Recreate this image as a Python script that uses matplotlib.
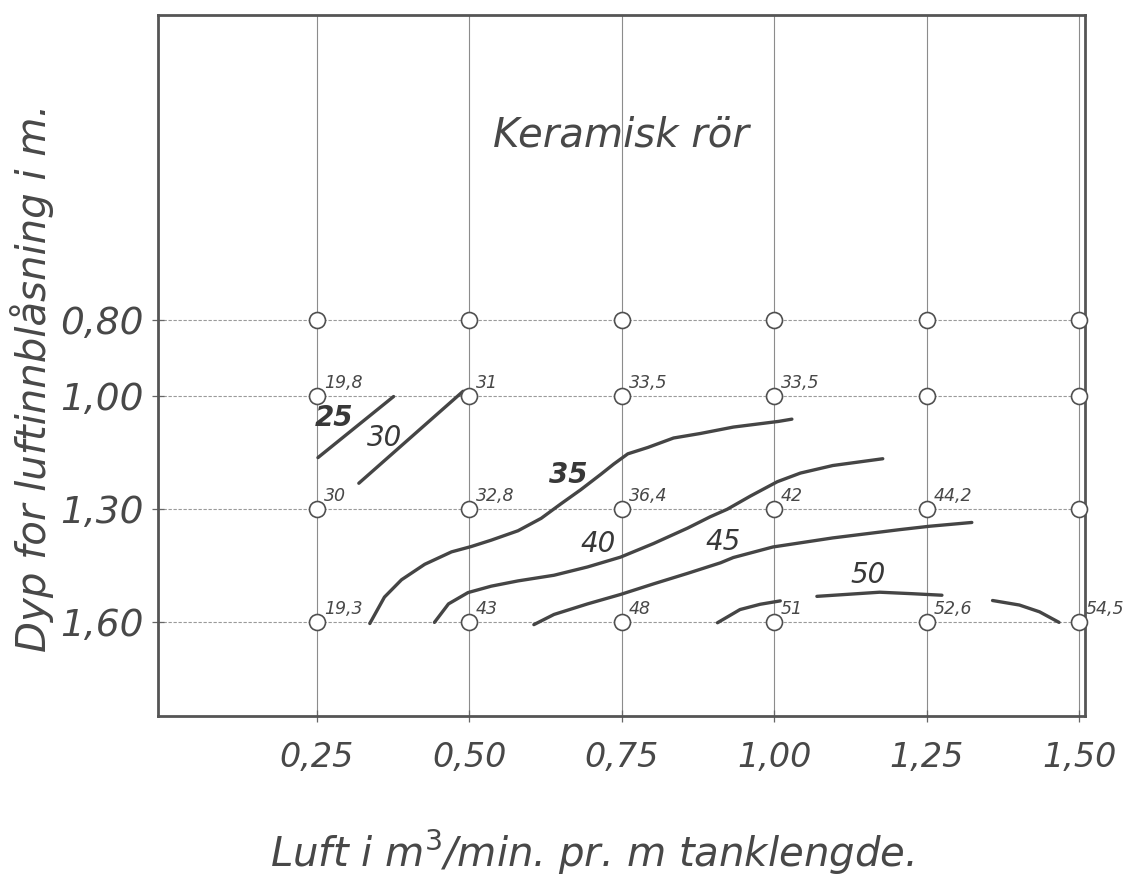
import matplotlib
matplotlib.use("Agg")
import matplotlib.pyplot as plt

# ---------------- data ----------------
x_ticks = [0.25, 0.50, 0.75, 1.00, 1.25, 1.50]
x_ticklabels = ["0,25", "0,50", "0,75", "1,00", "1,25", "1,50"]
y_ticks = [0.80, 1.00, 1.30, 1.60]
y_ticklabels = ["0,80", "1,00", "1,30", "1,60"]

# measured points (air, depth) and value labels ('' = no label)
pt_x = [0.25, 0.50, 0.75, 1.00, 1.25, 1.50] * 4
pt_y = [0.80] * 6 + [1.00] * 6 + [1.30] * 6 + [1.60] * 6
pt_labels = ["", "", "", "", "", "",
             "19,8", "31", "33,5", "33,5", "", "",
             "30", "32,8", "36,4", "42", "44,2", "",
             "19,3", "43", "48", "51", "52,6", "54,5"]

# iso-lines (hand drawn) : (x, y) pieces per level
c25_x = [0.252, 0.376]
c25_y = [1.164, 1.002]
c30_x = [0.319, 0.490]
c30_y = [1.232, 0.988]
c35_x = [0.337, 0.361, 0.389, 0.427, 0.471, 0.503, 0.536, 0.580, 0.618, 0.650,
         0.683, 0.716, 0.737, 0.760, 0.793, 0.835, 0.879, 0.933, 1.007, 1.029]
c35_y = [1.604, 1.534, 1.488, 1.447, 1.414, 1.400, 1.383, 1.358, 1.325, 1.287,
         1.249, 1.208, 1.181, 1.154, 1.137, 1.112, 1.100, 1.083, 1.068, 1.062]
c40_x = [0.443, 0.466, 0.498, 0.536, 0.580, 0.639, 0.694, 0.748, 0.802, 0.858,
         0.895, 0.923, 0.961, 1.005, 1.043, 1.096, 1.178]
c40_y = [1.601, 1.552, 1.522, 1.505, 1.491, 1.476, 1.454, 1.428, 1.392, 1.351,
         1.321, 1.301, 1.266, 1.228, 1.205, 1.185, 1.167]
c45_x = [0.606, 0.639, 0.694, 0.748, 0.802, 0.858, 0.912, 0.933, 0.998, 1.096,
         1.206, 1.255, 1.324]
c45_y = [1.607, 1.580, 1.552, 1.527, 1.499, 1.471, 1.443, 1.429, 1.401, 1.377,
         1.355, 1.346, 1.336]
c50a_x = [0.907, 0.944, 0.977, 1.010]
c50a_y = [1.602, 1.567, 1.553, 1.544]
c50b_x = [1.070, 1.173, 1.227, 1.275]
c50b_y = [1.532, 1.521, 1.525, 1.529]
c50c_x = [1.358, 1.402, 1.435, 1.467]
c50c_y = [1.543, 1.555, 1.573, 1.601]

contour_labels = ["25", "30", "35", "40", "45", "50"]
contour_label_x = [0.279, 0.361, 0.662, 0.711, 0.917, 1.154]
contour_label_y = [1.060, 1.111, 1.210, 1.392, 1.387, 1.476]

title = "Keramisk rör"
xlabel = "Luft i m$^3$/min. pr. m tanklengde."
ylabel = "Dyp for luftinnblåsning i m."

# ---------------- plot ----------------
ink = "#484848"
plt.rcParams["font.family"] = ["DejaVu Sans"]
fig = plt.figure(figsize=(11.46, 8.81), dpi=100)
ax = fig.add_axes([0.138, 0.187, 0.809, 0.796])
ax.set_xlim(-0.01, 1.51)
ax.set_ylim(1.85, -0.01)

for xv in x_ticks:
    ax.axvline(xv, color="#8c8c8c", lw=0.8, zorder=1)
for yv in y_ticks:
    ax.axhline(yv, color="#9a9a9a", lw=0.8, ls=(0, (3, 1.5)), zorder=1)

pieces = [(c25_x, c25_y), (c30_x, c30_y), (c35_x, c35_y), (c40_x, c40_y),
          (c45_x, c45_y), (c50a_x, c50a_y), (c50b_x, c50b_y), (c50c_x, c50c_y)]
for px, py in pieces:
    ax.plot(px, py, color="#454545", lw=2.4, solid_capstyle="round",
            solid_joinstyle="round", zorder=2)

ax.plot(pt_x, pt_y, "o", ms=11.5, mfc="white", mec="#505050", mew=1.2,
        zorder=3, clip_on=False)

for xv, yv, lab in zip(pt_x, pt_y, pt_labels):
    if lab:
        ax.annotate(lab, (xv, yv), xytext=(5, 3), textcoords="offset points",
                    ha="left", va="bottom", fontsize=12.5, style="italic",
                    color=ink, zorder=4)

label_weights = ["bold", "normal", "bold", "normal", "normal", "normal"]
for lab, xv, yv, w in zip(contour_labels, contour_label_x, contour_label_y,
                          label_weights):
    ax.text(xv, yv, lab, ha="center", va="center", fontsize=20,
            style="italic", color="#383838", fontweight=w, zorder=4)

ax.text(0.748, 0.309, title, ha="center", va="center", fontsize=29,
        style="italic", color=ink)

ax.set_xticks(x_ticks)
ax.set_xticklabels(x_ticklabels, fontsize=24, style="italic", color=ink)
ax.set_yticks(y_ticks)
ax.set_yticklabels(y_ticklabels, fontsize=27, style="italic", color=ink)
ax.tick_params(axis="both", direction="inout", length=9, width=0.9,
               color="#666666")
ax.tick_params(axis="x", pad=13)
ax.tick_params(axis="y", pad=6)

for sp in ax.spines.values():
    sp.set_color("#555555")
    sp.set_linewidth(2.0)

fig.text(0.517, 1 - 852 / 881, xlabel, ha="center", va="center",
         fontsize=29, style="italic", color=ink)
fig.text(0.028, 1 - 378 / 881, ylabel, ha="center", va="center",
         rotation=90, fontsize=29, style="italic", color=ink)

fig.savefig("out.png", dpi=100, facecolor="white")
